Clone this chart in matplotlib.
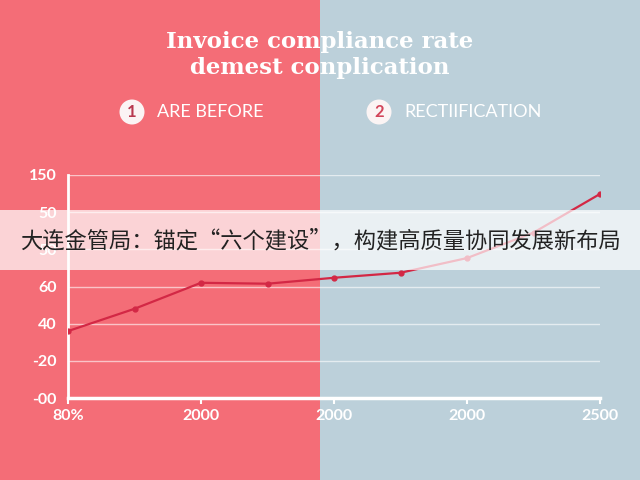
import matplotlib
matplotlib.use("Agg")
import matplotlib.pyplot as plt
from matplotlib.patches import Rectangle, Circle

# ---- data ----
x_pos = [0, 1, 2, 3, 4, 5, 6, 7, 8]
rate = [36, 48, 62, 61.5, 64.7, 67.4, 75.3, 89, 109.8]
ytick_vals = [0, 20, 40, 60, 80, 100, 120]
ytick_labels = ["-00", "-20", "40", "60", "50", "50", "150"]
xtick_vals = [0, 2, 4, 6, 8]
xtick_labels = ["80%", "2000", "2000", "2000", "2500"]
title_lines = ["Invoice compliance rate", "demest conplication"]
legend_items = [("1", "ARE BEFORE"), ("2", "RECTIIFICATION")]
banner_text = "大连金管局：锚定“六个建设”，构建高质量协同发展新布局"

RED_BG = "#f46d77"
BLUE_BG = "#bcd0da"
LINE = "#d32845"

fig = plt.figure(figsize=(6.4, 4.8), dpi=100)
fig.patches.append(Rectangle((0, 0), 0.5, 1, transform=fig.transFigure,
                             facecolor=RED_BG, edgecolor="none", zorder=-10))
fig.patches.append(Rectangle((0.5, 0), 0.5, 1, transform=fig.transFigure,
                             facecolor=BLUE_BG, edgecolor="none", zorder=-10))

# title
fig.text(0.5, 1 - 42 / 480, title_lines[0], ha="center", va="center", color="white",
         fontsize=16.5, fontweight="bold", family="DejaVu Serif")
fig.text(0.5, 1 - 68 / 480, title_lines[1], ha="center", va="center", color="white",
         fontsize=16.5, fontweight="bold", family="DejaVu Serif")

# legend-like markers
circ_x = [132 / 640, 379 / 640]
num_cols = ["#b8394f", "#d2455a"]
for (num, lab), cx, nc in zip(legend_items, circ_x, num_cols):
    cy = 1 - 112 / 480
    fig.patches.append(Circle((cx * 640, cy * 480), 12.5, transform=None,
                              facecolor="#fbf4f4", edgecolor="none"))
    fig.text(cx, cy, num, ha="center", va="center", color=nc, fontsize=12,
             fontweight="bold", family="Lato")
    fig.text(cx + 25 / 640, cy, lab, ha="left", va="center", color="white",
             fontsize=13, family="Lato")

ax = fig.add_axes([68 / 640, 82 / 480, 532 / 640, 223 / 480])
ax.set_facecolor("none")
ax.plot(x_pos, rate, color=LINE, lw=1.6, marker="o", ms=3.5, zorder=3,
        solid_capstyle="round")
ax.set_xlim(0, 8)
ax.set_ylim(0, 120)
ax.set_yticks(ytick_vals)
ax.set_yticklabels(ytick_labels)
ax.set_xticks(xtick_vals)
ax.set_xticklabels(xtick_labels)
ax.grid(axis="y", color="white", alpha=0.6, lw=1)
ax.grid(axis="x", visible=False)
for s in ["top", "right"]:
    ax.spines[s].set_visible(False)
ax.spines["left"].set_color("white")
ax.spines["left"].set_linewidth(2)
ax.spines["bottom"].set_color("white")
ax.spines["bottom"].set_linewidth(2.5)
ax.tick_params(axis="y", length=0, pad=8, colors="white", labelsize=11.5)
ax.tick_params(axis="x", length=4, width=1.5, pad=4, colors="white", labelsize=11.5)
for t in ax.get_xticklabels() + ax.get_yticklabels():
    t.set_family("Lato")
    t.set_fontweight("bold")

# banner overlay
fig.patches.append(Rectangle((0, 1 - 270 / 480), 1, 60 / 480, transform=fig.transFigure,
                             facecolor="white", alpha=0.7, edgecolor="none", zorder=10))
fig.text(0.5, 1 - 241 / 480, banner_text, ha="center", va="center", color="#222222",
         fontsize=16, family=["Noto Sans CJK SC", "DejaVu Sans"], zorder=11)

fig.savefig("out.png", dpi=100)
